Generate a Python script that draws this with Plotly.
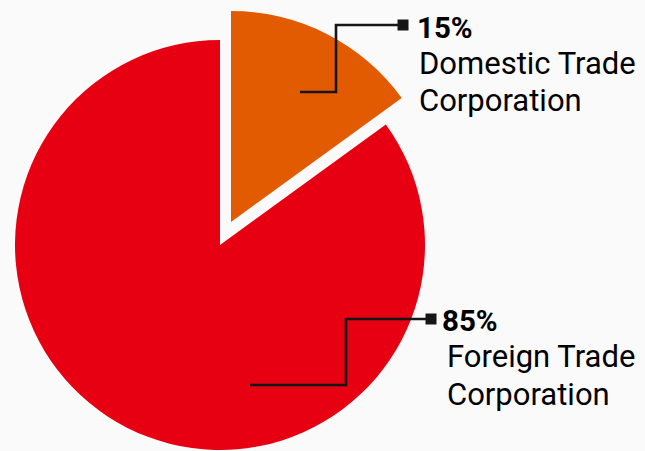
import plotly.graph_objects as go

# ---- data ----
labels = ["Domestic Trade Corporation", "Foreign Trade Corporation"]
values = [15, 85]
pct_labels = ["15%", "85%"]
name_lines = [["Domestic Trade", "Corporation"], ["Foreign Trade", "Corporation"]]
colors = ["#E35B00", "#E60012"]

W, H = 645, 451
BG = "#FAFAFA"
INK = "#161616"
FONT = "Roboto"

def px(x):
    return x / W

def py(y):
    return 1 - y / H

def dom(cx, cy, r):
    return dict(x=[px(cx - r), px(cx + r)], y=[py(cy + r), py(cy - r)])

fig = go.Figure()
# main (red) slice, unshifted
fig.add_trace(go.Pie(
    labels=labels, values=values, sort=False, direction="clockwise", rotation=0,
    marker=dict(colors=["rgba(0,0,0,0)", colors[1]], line=dict(width=0)),
    textinfo="none", hoverinfo="skip", showlegend=False,
    domain=dom(220, 245, 205),
))
# exploded (orange) slice
fig.add_trace(go.Pie(
    labels=labels, values=values, sort=False, direction="clockwise", rotation=0,
    marker=dict(colors=[colors[0], "rgba(0,0,0,0)"], line=dict(width=0)),
    textinfo="none", hoverinfo="skip", showlegend=False,
    domain=dom(231, 222, 211),
))

shapes = []
annotations = []

def leader(points, sq):
    path = "M " + " L ".join(f"{px(x)},{py(y)}" for x, y in points)
    shapes.append(dict(type="path", path=path, xref="paper", yref="paper",
                       line=dict(color=INK, width=2.6)))
    sx, sy = sq
    shapes.append(dict(type="rect", xref="paper", yref="paper",
                       x0=px(sx - 5.5), x1=px(sx + 5.5), y0=py(sy + 5.5), y1=py(sy - 5.5),
                       fillcolor=INK, line=dict(width=0)))

leader([(300, 92), (336, 92), (336, 25), (400, 25)], (403, 25))
leader([(250, 385), (346, 385), (346, 319), (428, 319)], (431, 319))

def label(x, ys, i):
    annotations.append(dict(text=f"<b>{pct_labels[i]}</b>", x=px(x[0]), y=py(ys[0]),
                            xref="paper", yref="paper", xanchor="left", yanchor="middle",
                            showarrow=False, font=dict(family=FONT, size=29.5, color="#000")))
    for k, line in enumerate(name_lines[i]):
        annotations.append(dict(text=line, x=px(x[1]), y=py(ys[k + 1]),
                                xref="paper", yref="paper", xanchor="left", yanchor="middle",
                                showarrow=False, font=dict(family=FONT, size=31, color="#000")))

label((415, 417), (28, 64, 101), 0)
label((440, 445), (321, 356, 394), 1)

fig.update_layout(
    width=W, height=H, margin=dict(l=0, r=0, t=0, b=0),
    paper_bgcolor=BG, plot_bgcolor=BG,
    shapes=shapes, annotations=annotations, showlegend=False,
)
fig.write_html("out.html", config={"displayModeBar": False},
               post_script="document.body.style.margin='0';document.body.style.background='%s';" % BG)
